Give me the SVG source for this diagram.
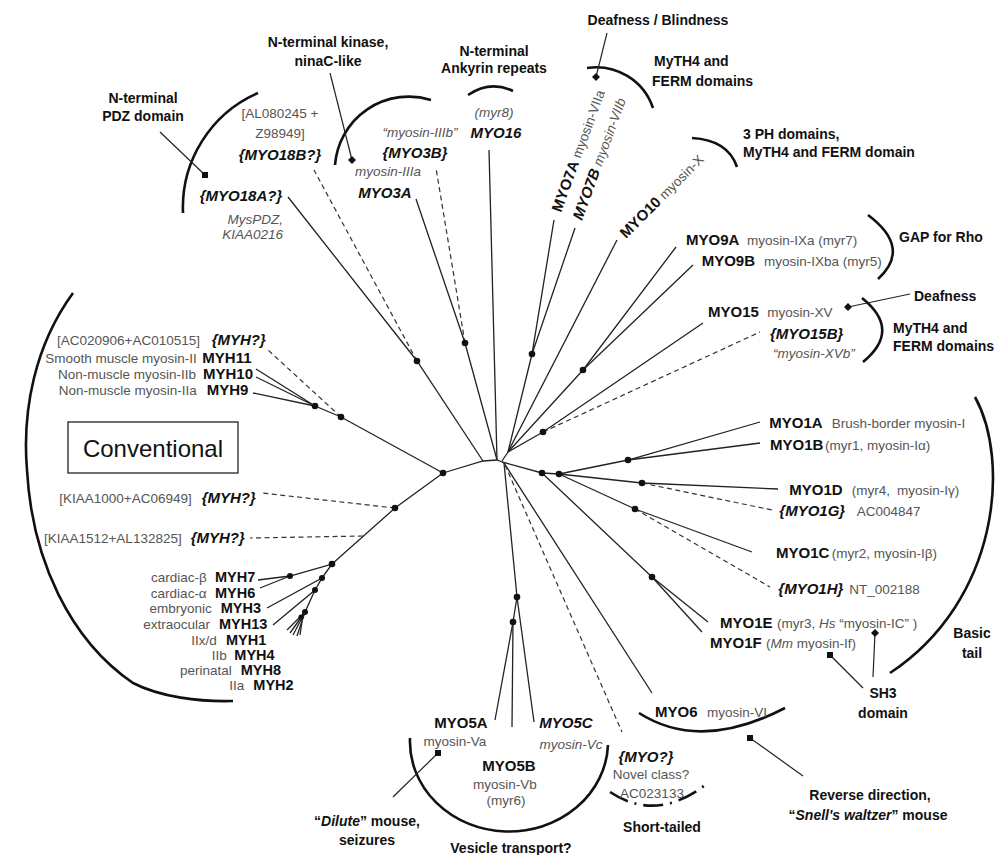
<svg xmlns="http://www.w3.org/2000/svg" width="998" height="855" viewBox="0 0 998 855">
<style>
text{font-family:"Liberation Sans",Arial,sans-serif}
.lb{font-weight:bold;font-size:14px;fill:#111}
.gn{font-weight:bold;font-size:15px;fill:#111}
.gh{font-weight:bold;font-size:14.5px;fill:#111}
.gi{font-weight:bold;font-style:italic;font-size:15px;fill:#111}
.gr{font-size:13.5px;fill:#555}
.gri{font-size:13.5px;font-style:italic;fill:#555}
.cv{font-size:24px;fill:#111}
.m{text-anchor:middle}
.e{text-anchor:end}
.ln{stroke:#222;stroke-width:1.3;fill:none}
.ds{stroke:#333;stroke-width:1.2;fill:none;stroke-dasharray:5 3.5}
.arc{stroke:#111;stroke-width:2.6;fill:none}
.pt{stroke:#222;stroke-width:1.2;fill:none}
.nd{fill:#111}
.mk{fill:#111}
</style>
<rect width="998" height="855" fill="#fff"/>

<g id="connectors">
  <polyline class="ln" points="443,473 483,461 497,460 502,462"/>
  <polyline class="ln" points="443,473 341,417 315,406"/>
  <line class="ln" x1="315" y1="406" x2="256" y2="369"/>
  <line class="ln" x1="315" y1="406" x2="256" y2="377"/>
  <line class="ln" x1="315" y1="406" x2="253" y2="393"/>
  <polyline class="ln" points="443,473 395,508 332,564"/>
  <polyline class="ln" points="332,564 290,576 258,580"/>
  <line class="ln" x1="290" y1="576" x2="260" y2="588"/>
  <polyline class="ln" points="332,564 322,578 267,608"/>
  <polyline class="ln" points="322,578 315,590 273,625"/>
  <polyline class="ln" points="315,590 305,612 287,630"/>
  <line class="ln" x1="305" y1="612" x2="290" y2="633"/>
  <line class="ln" x1="305" y1="612" x2="293" y2="635"/>
  <line class="ln" x1="305" y1="612" x2="297" y2="636"/>
  <line class="ln" x1="303" y1="615" x2="300" y2="635"/>
  <polyline class="ln" points="483,461 417,361 288,197"/>
  <polyline class="ln" points="497,460 465,343 416,199"/>
  <line class="ln" x1="497" y1="460" x2="489" y2="150"/>
  <line class="ln" x1="502" y1="461" x2="508" y2="452"/>
  <polyline class="ln" points="508,452 532,354 554,220"/>
  <line class="ln" x1="532" y1="354" x2="575" y2="228"/>
  <line class="ln" x1="508" y1="452" x2="617" y2="240"/>
  <polyline class="ln" points="508,452 583,370 676,247"/>
  <line class="ln" x1="583" y1="370" x2="693" y2="265"/>
  <polyline class="ln" points="508,452 543,432 703,323"/>
  <polyline class="ln" points="502,462 542,473 559,474"/>
  <polyline class="ln" points="559,474 628,460 760,422"/>
  <line class="ln" x1="628" y1="460" x2="760" y2="443"/>
  <polyline class="ln" points="559,474 642,483 778,489"/>
  <polyline class="ln" points="559,474 635,509 752,552"/>
  <polyline class="ln" points="542,473 652,577 708,622"/>
  <line class="ln" x1="652" y1="577" x2="702" y2="632"/>
  <polyline class="ln" points="504,463 517,597 534,722"/>
  <polyline class="ln" points="517,597 513,622 495,720"/>
  <line class="ln" x1="513" y1="622" x2="512" y2="727"/>
  <line class="ln" x1="504" y1="463" x2="652" y2="693"/>
  <line class="ds" x1="341" y1="417" x2="268" y2="350"/>
  <line class="ds" x1="395" y1="508" x2="262" y2="493"/>
  <line class="ds" x1="363" y1="536" x2="250" y2="538"/>
  <line class="ds" x1="417" y1="361" x2="314" y2="170"/>
  <line class="ds" x1="465" y1="343" x2="436" y2="168"/>
  <line class="ds" x1="543" y1="432" x2="760" y2="332"/>
  <line class="ds" x1="642" y1="483" x2="772" y2="510"/>
  <line class="ds" x1="635" y1="509" x2="770" y2="587"/>
  <line class="ds" x1="505" y1="465" x2="622" y2="732"/>
</g>

<g id="branch-nodes">
  <circle class="nd" cx="443" cy="473" r="3.3"/>
  <circle class="nd" cx="341" cy="417" r="3.3"/>
  <circle class="nd" cx="315" cy="406" r="3.3"/>
  <circle class="nd" cx="417" cy="361" r="3.3"/>
  <circle class="nd" cx="465" cy="343" r="3.3"/>
  <circle class="nd" cx="532" cy="354" r="3.3"/>
  <circle class="nd" cx="583" cy="370" r="3.3"/>
  <circle class="nd" cx="543" cy="432" r="3.3"/>
  <circle class="nd" cx="542" cy="473" r="3.3"/>
  <circle class="nd" cx="559" cy="474" r="3.3"/>
  <circle class="nd" cx="628" cy="460" r="3.3"/>
  <circle class="nd" cx="642" cy="483" r="3.3"/>
  <circle class="nd" cx="635" cy="509" r="3.3"/>
  <circle class="nd" cx="652" cy="577" r="3.3"/>
  <circle class="nd" cx="517" cy="597" r="3.3"/>
  <circle class="nd" cx="513" cy="622" r="3.3"/>
  <circle class="nd" cx="395" cy="508" r="3.3"/>
  <circle class="nd" cx="332" cy="564" r="3.3"/>
  <circle class="nd" cx="290" cy="576" r="3"/>
  <circle class="nd" cx="322" cy="578" r="3"/>
  <circle class="nd" cx="315" cy="590" r="3"/>
  <circle class="nd" cx="305" cy="612" r="3"/>
  <circle class="nd" cx="301" cy="617" r="2.6"/>
</g>

<g id="conventional">
  <path class="arc" d="M73,293 C35,345 22,410 27,470 C32,560 70,640 133,683 C160,697 200,702 233,701"/>
  <rect x="68" y="422" width="170" height="51" fill="none" stroke="#222" stroke-width="1.3"/>
  <text class="cv m" x="153" y="457">Conventional</text>
  <text class="gr e" x="200" y="345">[AC020906+AC010515]</text><text class="gi" x="211.7" y="345">{MYH?}</text>
  <text class="gr e" x="196.7" y="363">Smooth muscle myosin-II</text><text class="gn" x="202.3" y="363">MYH11</text>
  <text class="gr e" x="196" y="379">Non-muscle myosin-IIb</text><text class="gn" x="203" y="379">MYH10</text>
  <text class="gr e" x="196.7" y="395">Non-muscle myosin-IIa</text><text class="gn" x="206.7" y="395">MYH9</text>
  <text class="gr e" x="191.7" y="503">[KIAA1000+AC06949]</text><text class="gi" x="201.7" y="503">{MYH?}</text>
  <text class="gr e" x="181.7" y="543">[KIAA1512+AL132825]</text><text class="gi" x="190.7" y="543">{MYH?}</text>
  <text class="gr e" x="206.7" y="582">cardiac-β</text><text class="gh" x="215" y="582">MYH7</text>
  <text class="gr e" x="206.7" y="597.5">cardiac-α</text><text class="gh" x="215" y="597.5">MYH6</text>
  <text class="gr e" x="211.7" y="613">embryonic</text><text class="gh" x="220.7" y="613">MYH3</text>
  <text class="gr e" x="210" y="629">extraocular</text><text class="gh" x="219" y="629">MYH13</text>
  <text class="gr e" x="216.7" y="645">IIx/d</text><text class="gh" x="226" y="645">MYH1</text>
  <text class="gr e" x="226.7" y="660">IIb</text><text class="gh" x="234.3" y="660">MYH4</text>
  <text class="gr e" x="231.7" y="675">perinatal</text><text class="gh" x="240.7" y="675">MYH8</text>
  <text class="gr e" x="244.3" y="690">IIa</text><text class="gh" x="253.3" y="690">MYH2</text>
</g>

<g id="myo18">
  <path class="arc" d="M258,93 A125,125 0 0,0 183,213"/>
  <line class="pt" x1="160" y1="132" x2="205" y2="175"/>
  <rect class="mk" x="202" y="172" width="6" height="6"/>
  <text class="lb m" x="143" y="103">N-terminal</text>
  <text class="lb m" x="143" y="121">PDZ domain</text>
  <text class="gr m" x="280" y="118">[AL080245 +</text>
  <text class="gr m" x="280" y="138">Z98949]</text>
  <text class="gi m" x="280" y="160">{MYO18B?}</text>
  <text class="gi m" x="241" y="201">{MYO18A?}</text>
  <text class="gri e" x="283" y="224">MysPDZ,</text>
  <text class="gri e" x="283" y="239">KIAA0216</text>
</g>

<g id="myo3">
  <path class="arc" d="M431,100 A74,74 0 0,0 335,165"/>
  <line class="pt" x1="330" y1="73" x2="352" y2="160"/>
  <path class="mk" d="M352,156 l4,4 -4,4 -4,-4z"/>
  <text class="lb m" x="328" y="47">N-terminal kinase,</text>
  <text class="lb m" x="328" y="66">ninaC-like</text>
  <text class="gri m" x="420" y="137">“myosin-IIIb”</text>
  <text class="gi m" x="415" y="158">{MYO3B}</text>
  <text class="gri m" x="388" y="176">myosin-IIIa</text>
  <text class="gi m" x="385" y="198">MYO3A</text>
</g>

<g id="myo16">
  <path class="arc" d="M468,95 Q490,80 513,91"/>
  <text class="lb m" x="494" y="56">N-terminal</text>
  <text class="lb m" x="494" y="73">Ankyrin repeats</text>
  <text class="gri m" x="494" y="117">(myr8)</text>
  <text class="gi m" x="496" y="138">MYO16</text>
</g>

<g id="myo7">
  <path class="arc" d="M587,68 A60,60 0 0,1 653,108"/>
  <line class="pt" x1="607" y1="33" x2="596" y2="77"/>
  <path class="mk" d="M596,73 l4,4 -4,4 -4,-4z"/>
  <text class="lb m" x="658" y="25">Deafness / Blindness</text>
  <text class="lb" x="654" y="66">MyTH4 and</text>
  <text class="lb" x="652" y="86">FERM domains</text>
  <text transform="translate(561,213) rotate(-70)"><tspan class="gn">MYO7A</tspan><tspan class="gr" dx="4">myosin-VIIa</tspan></text>
  <text transform="translate(582,221) rotate(-70)"><tspan class="gi">MYO7B</tspan><tspan class="gri" dx="4">myosin-VIIb</tspan></text>
</g>

<g id="myo10">
  <path class="arc" d="M692,138 Q728,140 737,167"/>
  <text class="lb" x="743" y="139">3 PH domains,</text>
  <text class="lb" x="743" y="157">MyTH4 and FERM domain</text>
  <text transform="translate(626,239) rotate(-45)"><tspan class="gn">MYO10</tspan><tspan class="gr" dx="4">myosin-X</tspan></text>
</g>

<g id="myo9">
  <path class="arc" d="M868,215 Q912,248 878,279"/>
  <text class="lb" x="899" y="242">GAP for Rho</text>
  <text class="gn" x="686" y="245">MYO9A</text><text class="gr" x="747" y="245">myosin-IXa (myr7)</text>
  <text class="gn" x="701.7" y="266">MYO9B</text><text class="gr" x="764" y="266">myosin-IXba (myr5)</text>
</g>

<g id="myo15">
  <path class="arc" d="M862,298 Q902,330 863,362"/>
  <line class="pt" x1="910" y1="294" x2="848" y2="307"/>
  <path class="mk" d="M848,303 l4,4 -4,4 -4,-4z"/>
  <text class="lb" x="914" y="301">Deafness</text>
  <text class="lb" x="893" y="333">MyTH4 and</text>
  <text class="lb" x="893" y="351">FERM domains</text>
  <text class="gn" x="708" y="317">MYO15</text><text class="gr" x="767.3" y="317">myosin-XV</text>
  <text class="gi" x="770" y="339">{MYO15B}</text>
  <text class="gri" x="773" y="358">“myosin-XVb”</text>
</g>

<g id="myo1">
  <path class="arc" d="M975,397 C1010,460 1000,600 890,673"/>
  <text class="lb m" x="972" y="638">Basic</text>
  <text class="lb m" x="972" y="658">tail</text>
  <line class="pt" x1="863" y1="688" x2="830" y2="655"/>
  <rect class="mk" x="827" y="652" width="6" height="6"/>
  <line class="pt" x1="873" y1="677" x2="875" y2="633"/>
  <path class="mk" d="M875,629 l4,4 -4,4 -4,-4z"/>
  <text class="lb m" x="883" y="698">SH3</text>
  <text class="lb m" x="883" y="718">domain</text>
  <text class="gn" x="769.3" y="428">MYO1A</text><text class="gr" x="831.7" y="428">Brush-border myosin-I</text>
  <text class="gn" x="770" y="450">MYO1B</text><text class="gr" x="825" y="450">(myr1, myosin-Iα)</text>
  <text class="gn" x="789.3" y="495">MYO1D</text><text class="gr" x="851.7" y="495">(myr4,<tspan dx="7">myosin-Iγ)</tspan></text>
  <text class="gi" x="779.3" y="516">{MYO1G}</text><text class="gr" x="856.7" y="516">AC004847</text>
  <text class="gn" x="776" y="558">MYO1C</text><text class="gr" x="831.7" y="558">(myr2, myosin-Iβ)</text>
  <text class="gi" x="778.3" y="594">{MYO1H}</text><text class="gr" x="849.3" y="594">NT_002188</text>
  <text class="gn" x="720" y="628">MYO1E</text><text class="gr" x="777" y="628">(myr3, <tspan font-style="italic">Hs</tspan> “myosin-IC” )</text>
  <text class="gn" x="710" y="648">MYO1F</text><text class="gr" x="766" y="648">(<tspan font-style="italic">Mm</tspan> myosin-If)</text>
</g>

<g id="myo6">
  <path class="arc" d="M639,713 Q700,752 785,708"/>
  <line class="pt" x1="750" y1="738" x2="803" y2="776"/>
  <rect class="mk" x="747" y="735" width="6" height="6"/>
  <text class="gn" x="655" y="717">MYO6</text><text class="gr" x="707" y="717">myosin-VI</text>
  <text class="lb m" x="870" y="800">Reverse direction,</text>
  <text class="lb m" x="868" y="820">“<tspan font-style="italic">Snell's waltzer</tspan>” mouse</text>
</g>

<g id="myo-novel">
  <path class="arc" d="M610,792 Q655,822 704,786" stroke-width="2.2" stroke-dasharray="20 7 2 7"/>
  <text class="gi m" x="646" y="762">{MYO?}</text>
  <text class="gr m" x="651" y="779">Novel class?</text>
  <text class="gr m" x="652" y="798">AC023133</text>
  <text class="lb m" x="662" y="832">Short-tailed</text>
</g>

<g id="myo5">
  <path class="arc" d="M410,738 A99,90 0 0,0 608,745"/>
  <line class="pt" x1="438" y1="753" x2="393" y2="797"/>
  <rect class="mk" x="435" y="750" width="6" height="6"/>
  <text class="gn m" x="461" y="728">MYO5A</text>
  <text class="gr m" x="455" y="746">myosin-Va</text>
  <text class="gn m" x="509" y="771">MYO5B</text>
  <text class="gr m" x="505" y="789">myosin-Vb</text>
  <text class="gr m" x="506" y="805">(myr6)</text>
  <text class="gi m" x="566" y="728">MYO5C</text>
  <text class="gri m" x="571" y="749">myosin-Vc</text>
  <text class="lb m" x="367" y="826">“<tspan font-style="italic">Dilute</tspan>” mouse,</text>
  <text class="lb m" x="367" y="845">seizures</text>
  <text class="lb m" x="511" y="853">Vesicle transport?</text>
</g>
</svg>
